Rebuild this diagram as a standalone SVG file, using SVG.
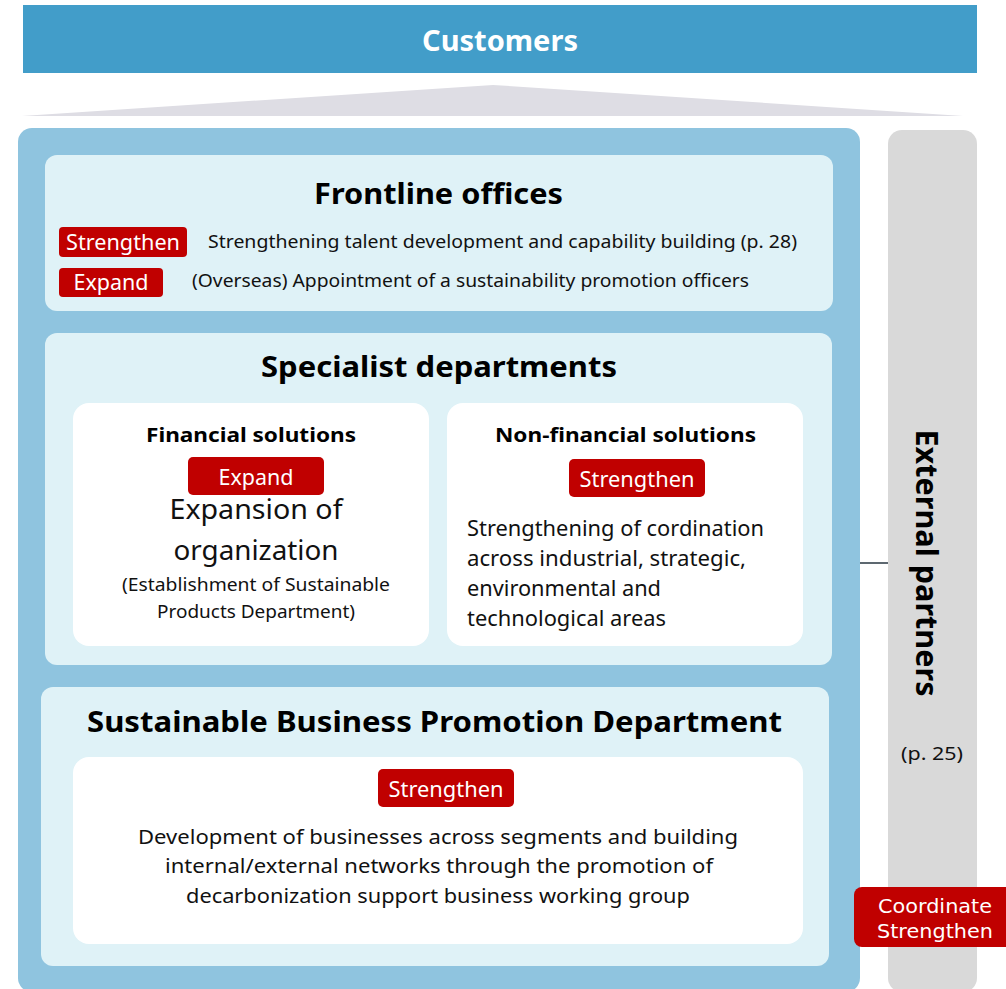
<svg xmlns="http://www.w3.org/2000/svg" width="1006" height="989" viewBox="0 0 1006 989">
<style>
text{font-family:"Noto Sans","DejaVu Sans",sans-serif;fill:#111}
.b{font-weight:bold;fill:#000}
.w{fill:#fff}
.m{text-anchor:middle}
.badge{fill:#c00000}
.light{fill:#dff2f7}
.white{fill:#fff}
.t18{font-size:18px}
.t20{font-size:20px}
.t21{font-size:21px}
.t28{font-size:28px}
.dv{font-family:"DejaVu Sans",sans-serif;font-size:20px}
</style>
<rect width="1006" height="989" fill="#fff"/>
<g id="customers">
<rect x="23" y="5" width="954" height="68" fill="#429dc9"/>
<text class="b w m" x="500" y="51" font-size="29" textLength="156" lengthAdjust="spacingAndGlyphs">Customers</text>
</g>
<polygon points="22,116 493,85 963,116" fill="#dedde4"/>
<g id="organization">
<rect x="18" y="128" width="842" height="864" rx="14" fill="#8fc4df"/>
</g>
<g id="frontline">
<rect class="light" x="45" y="155" width="788" height="156" rx="12"/>
<text class="b" x="314" y="204" font-size="29" textLength="249" lengthAdjust="spacingAndGlyphs">Frontline offices</text>
<rect class="badge" x="59" y="227" width="128" height="30" rx="4"/>
<text class="w m t21" x="123" y="250" textLength="114" lengthAdjust="spacingAndGlyphs">Strengthen</text>
<text class="t18" x="208" y="248" textLength="589" lengthAdjust="spacingAndGlyphs">Strengthening talent development and capability building (p. 28)</text>
<rect class="badge" x="59" y="268" width="104" height="29" rx="4"/>
<text class="w m t21" x="111" y="290" textLength="75" lengthAdjust="spacingAndGlyphs">Expand</text>
<text class="t18" x="192" y="287" textLength="557" lengthAdjust="spacingAndGlyphs">(Overseas) Appointment of a sustainability promotion officers</text>
</g>
<g id="specialist">
<rect class="light" x="45" y="333" width="787" height="332" rx="12"/>
<text class="b t28" x="261" y="377" textLength="356" lengthAdjust="spacingAndGlyphs">Specialist departments</text>
</g>
<g id="financial">
<rect class="white" x="73" y="403" width="356" height="243" rx="16"/>
<text class="b m t20" x="251" y="442" textLength="210" lengthAdjust="spacingAndGlyphs">Financial solutions</text>
<rect class="badge" x="188" y="457" width="136" height="38" rx="5"/>
<text class="w m t21" x="256" y="485" textLength="75" lengthAdjust="spacingAndGlyphs">Expand</text>
<text class="m t28" x="256" y="519" textLength="173" lengthAdjust="spacingAndGlyphs">Expansion of</text>
<text class="m t28" x="256" y="560" textLength="165" lengthAdjust="spacingAndGlyphs">organization</text>
<text class="m t18" x="256" y="591" textLength="268" lengthAdjust="spacingAndGlyphs">(Establishment of Sustainable</text>
<text class="m t18" x="256" y="618" textLength="198" lengthAdjust="spacingAndGlyphs">Products Department)</text>
</g>
<g id="nonfinancial">
<rect class="white" x="447" y="403" width="356" height="243" rx="16"/>
<text class="b m t20" x="625.5" y="442" textLength="261" lengthAdjust="spacingAndGlyphs">Non-financial solutions</text>
<rect class="badge" x="569" y="459" width="136" height="38" rx="5"/>
<text class="w m t21" x="637" y="487" textLength="115" lengthAdjust="spacingAndGlyphs">Strengthen</text>
<text class="t21" x="467" y="536" textLength="297" lengthAdjust="spacingAndGlyphs">Strengthening of cordination</text>
<text class="t21" x="467" y="566" textLength="279" lengthAdjust="spacingAndGlyphs">across industrial, strategic,</text>
<text class="t21" x="467" y="596" textLength="194" lengthAdjust="spacingAndGlyphs">environmental and</text>
<text class="t21" x="467" y="626" textLength="199" lengthAdjust="spacingAndGlyphs">technological areas</text>
</g>
<g id="sbpd">
<rect class="light" x="41" y="687" width="788" height="279" rx="12"/>
<text class="b t28" x="87" y="732" textLength="695" lengthAdjust="spacingAndGlyphs">Sustainable Business Promotion Department</text>
<rect class="white" x="73" y="757" width="730" height="187" rx="16"/>
<rect class="badge" x="378" y="769" width="136" height="38" rx="5"/>
<text class="w m t21" x="446" y="797" textLength="115" lengthAdjust="spacingAndGlyphs">Strengthen</text>
<text class="m t20" x="438" y="844" textLength="600" lengthAdjust="spacingAndGlyphs">Development of businesses across segments and building</text>
<text class="m t20" x="439" y="873" textLength="548" lengthAdjust="spacingAndGlyphs">internal/external networks through the promotion of</text>
<text class="m t20" x="438" y="903" textLength="504" lengthAdjust="spacingAndGlyphs">decarbonization support business working group</text>
</g>
<g id="connectors">
<line x1="860" y1="563" x2="888" y2="563" stroke="#5d6870" stroke-width="2"/>
</g>
<g id="external">
<rect x="888" y="130" width="89" height="862" rx="14" fill="#d9d9d9"/>
<text class="b m" transform="translate(927,563) rotate(90)" x="0" y="11" font-size="30" textLength="267" lengthAdjust="spacingAndGlyphs">External partners</text>
<text class="m t18" x="932" y="760" textLength="62" lengthAdjust="spacingAndGlyphs">(p. 25)</text>
</g>
<g id="coordinate">
<rect class="badge" x="854" y="887" width="170" height="60" rx="8"/>
<text class="w m dv" x="935" y="913" textLength="114" lengthAdjust="spacingAndGlyphs">Coordinate</text>
<text class="w m dv" x="935" y="938" textLength="116" lengthAdjust="spacingAndGlyphs">Strengthen</text>
</g>
</svg>
